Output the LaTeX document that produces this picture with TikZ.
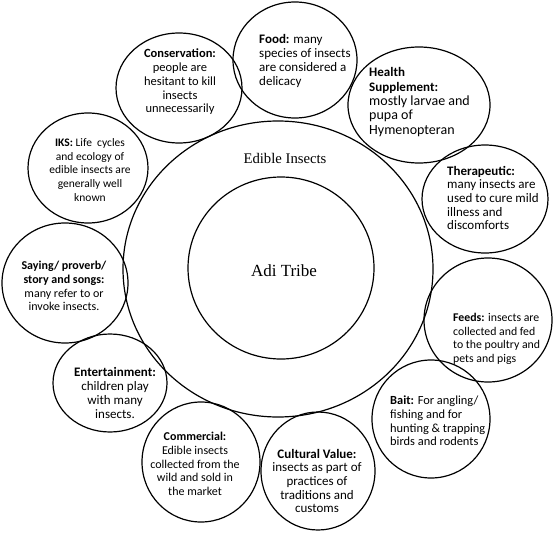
\documentclass[tikz,border=0pt]{standalone}
\usepackage{fontspec}
\setmainfont{Carlito}
\newfontfamily\serifface{Liberation Serif}
\usetikzlibrary{shapes.geometric}
\begin{document}
\begin{tikzpicture}[x=1pt,y=-1pt,
  ring/.style={draw,line width=1.2pt},
  txt/.style={font=\fontsize{#1}{13.7}\selectfont,inner sep=0pt},
  txt/.default=13,
  lt/.style={txt=#1,align=left},
  lt/.default=13,
  ct/.style={txt=#1,align=center},
  ct/.default=13,
  big/.style={font=\serifface\fontsize{14.7}{16}\selectfont,inner sep=0pt}]
\useasboundingbox (0,0) rectangle (553,532);
% main circles
\draw[ring] (278,269) ellipse [x radius=155, y radius=148];
\draw[ring] (281,268) ellipse [x radius=93, y radius=91];
\node[big] (edible) at (285,158) {Edible Insects};
\node[big,font=\serifface\fontsize{17}{19}\selectfont] (adi) at (284,271) {Adi Tribe};
% satellites
\draw[ring] (179,88) ellipse [x radius=63, y radius=55];
\node[ct=12.5] (cons) at (180,82) {\textbf{Conservation:}\\people are\\hesitant to kill\\insects\\unnecessarily};
\draw[ring] (295,60) ellipse [x radius=62, y radius=58];
\node[lt=13,anchor=west] (food) at (259,61) {\textbf{Food:} many\\species of insects\\are considered a\\delicacy};
\draw[ring] (419,105) ellipse [x radius=71, y radius=58];
\node[lt=13,anchor=west,font=\fontsize{13}{14.3}\selectfont] (health) at (369,102) {\textbf{Health}\\\textbf{Supplement:}\\{\fontsize{14}{14.3}\selectfont mostly larvae and}\\{\fontsize{14}{14.3}\selectfont pupa of}\\{\fontsize{14}{14.3}\selectfont Hymenopteran}};
\draw[ring] (485,199) ellipse [x radius=63, y radius=54];
\node[lt=13,anchor=west] (thera) at (447,198) {\textbf{Therapeutic:}\\many insects are\\used to cure mild\\illness and\\discomforts};
\draw[ring] (488,320) ellipse [x radius=64, y radius=62];
\node[lt=11.8,anchor=west] (feeds) at (453,339) {\textbf{Feeds:} insects are\\collected and fed\\to the poultry and\\pets and pigs};
\draw[ring] (431,419) ellipse [x radius=59, y radius=59];
\node[lt=12.4,anchor=west] (bait) at (390,421) {\textbf{Bait:} For angling/\\fishing and for\\hunting \& trapping\\birds and rodents};
\draw[ring] (318,471) ellipse [x radius=57, y radius=59];
\node[ct=13] (cult) at (317,481) {\textbf{Cultural Value:}\\insects as part of\\practices of\\traditions and\\customs};
\draw[ring] (201,462) ellipse [x radius=59, y radius=60];
\node[ct=12] (comm) at (195,464) {\textbf{Commercial:}\\Edible insects\\collected from the\\wild and sold in\\the market};
\draw[ring] (110,383) ellipse [x radius=57, y radius=49];
\node[ct=13] (ent) at (115,393) {\textbf{Entertainment:}\\children play\\with many\\insects.};
\draw[ring] (65,283) ellipse [x radius=63, y radius=60];
\node[ct=12] (say) at (64,286) {\textbf{Saying/ proverb/}\\\textbf{story and songs:}\\many refer to or\\invoke insects.};
\draw[ring] (88,168) ellipse [x radius=60, y radius=55];
\node[ct=11.5] (iks) at (90,170) {\textbf{IKS:} Life\ \ cycles\\and ecology of\\edible insects are\\generally well\\known};
\end{tikzpicture}
\end{document}
